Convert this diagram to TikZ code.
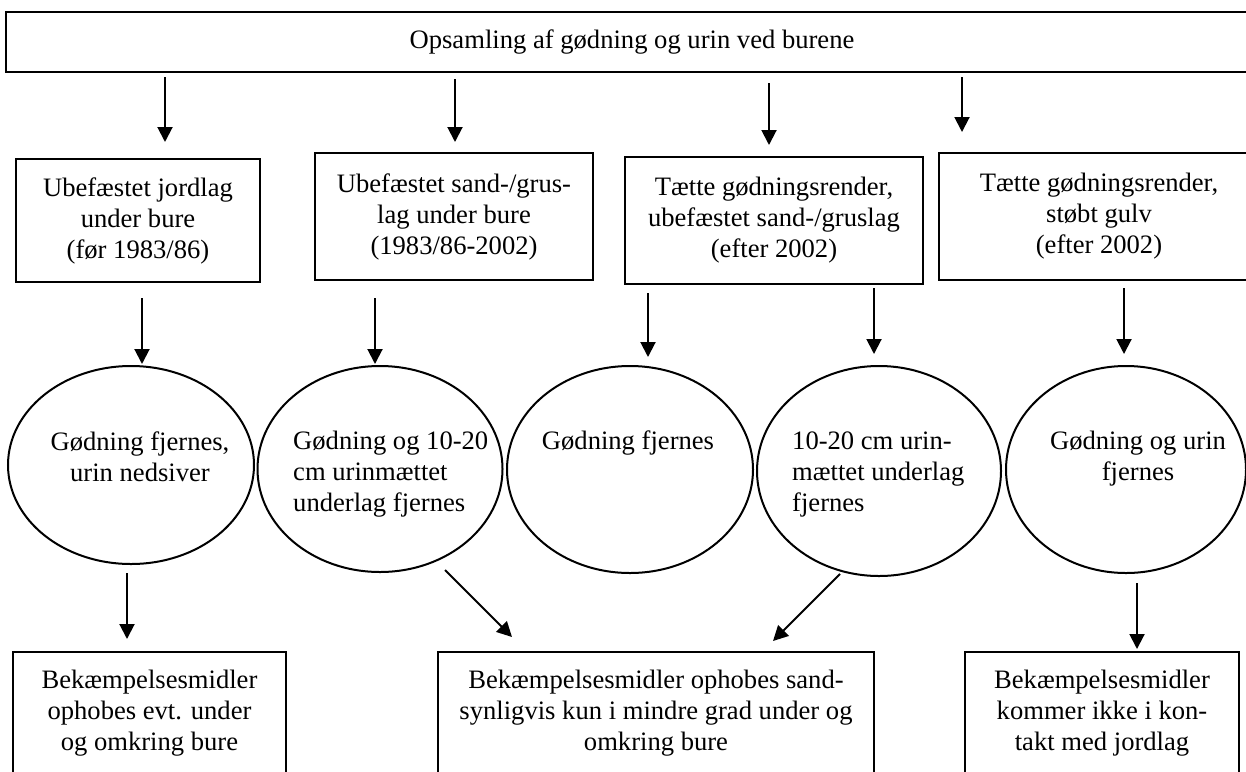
\documentclass[tikz,border=0pt]{standalone}
\usepackage{fontspec}
\setmainfont{Liberation Serif}
\usetikzlibrary{arrows.meta,shapes.geometric,calc}
\tikzset{bx/.style={draw,line width=2pt,align=center,inner sep=0pt,font=\fontsize{26.6}{31}\selectfont},
 el/.style={draw,ellipse,line width=2pt,inner sep=0pt},
 txt/.style={inner sep=0pt,font=\fontsize{26.6}{31}\selectfont},
 flow/.style={-{Triangle[length=15pt,width=15pt]},line width=2pt}}
\begin{document}
\begin{tikzpicture}[x=1pt,y=-1pt]
\useasboundingbox (0,0) rectangle (1246,771);
\clip (0,0) rectangle (1246,771);
\node[bx,minimum width=1252pt,minimum height=60pt] (top) at (632,42) {Opsamling af gødning og urin ved burene};
\node[bx,minimum width=244pt,minimum height=123pt] (A) at (138,220.5) {Ubefæstet jordlag\\under bure\\(før 1983/86)};
\node[bx,minimum width=278pt,minimum height=127pt] (B) at (454,216.5) {Ubefæstet sand-/grus-\\lag under bure\\(1983/86-2002)};
\node[bx,minimum width=298pt,minimum height=127pt] (C) at (774,220.5) {Tætte gødningsrender,\\ubefæstet sand-/gruslag\\(efter 2002)};
\node[bx,minimum width=320pt,minimum height=127pt] (D) at (1099,216.5) {Tætte gødningsrender,\\støbt gulv\\(efter 2002)};
% ellipses, text set on top of them
\node[el,minimum width=246pt,minimum height=198pt] (E1) at (131,465) {};
\node[el,minimum width=245pt,minimum height=206pt] (E2) at (380,469) {};
\node[el,minimum width=246pt,minimum height=207pt] (E3) at (630,469.5) {};
\node[el,minimum width=244pt,minimum height=210pt] (E4) at (879,471) {};
\node[el,minimum width=240pt,minimum height=207pt] (E5) at (1126,469.5) {};
\node[txt,align=center] (t1) at (140,457) {Gødning fjernes,\\urin nedsiver};
\node[txt,align=left,anchor=west] (t2) at (293,474) {Gødning og 10-20\\cm urinmættet\\underlag fjernes};
\node[txt] (t3) at (628,443) {Gødning fjernes};
\node[txt,align=left,anchor=west] (t4) at (792,474) {10-20 cm urin-\\mættet underlag\\fjernes};
\node[txt,align=center] (t5) at (1138,459) {Gødning og urin\\fjernes};
\node[bx,minimum width=273pt,minimum height=122pt] (L) at (149.5,713) {Bekæmpelsesmidler\\ophobes evt. under\\og omkring bure};
\node[bx,minimum width=436pt,minimum height=122pt] (M) at (656,713) {Bekæmpelsesmidler ophobes sand-\\synligvis kun i mindre grad under og\\omkring bure};
\node[bx,minimum width=274pt,minimum height=122pt] (R) at (1102,713) {Bekæmpelsesmidler\\kommer ikke i kon-\\takt med jordlag};
% arrows
\draw[flow,shorten <=4pt,shorten >=16pt] (top.south -| 165,0) -- (A.north -| 165,0);
\draw[flow,shorten <=6pt,shorten >=10pt] (top.south -| 455,0) -- (B.north -| 455,0);
\draw[flow,shorten <=10pt,shorten >=11pt] (top.south -| 769,0) -- (C.north -| 769,0);
\draw[flow,shorten <=4pt,shorten >=20pt] (top.south -| 962,0) -- (D.north -| 962,0);
\draw[flow,shorten <=15pt,shorten >=1pt] (A.south -| 142,0) -- (E1.north -| 142,0);
\draw[flow,shorten <=17pt,shorten >=1pt] (B.south -| 375,0) -- (E2.north -| 375,0);
\draw[flow,shorten <=8pt,shorten >=8pt] (C.south -| 648,0) -- (E3.north -| 648,0);
\draw[flow,shorten <=3pt,shorten >=11pt] (C.south -| 874,0) -- (E4.north -| 874,0);
\draw[flow,shorten <=7pt,shorten >=11pt] (D.south -| 1124,0) -- (E5.north -| 1124,0);
\draw[flow,shorten <=8pt,shorten >=12pt] (E1.south -| 127,0) -- (L.north -| 127,0);
\draw[flow] ($(E2.south)+(65,-3)$) -- ($(M.north west)+(75,-14)$);
\draw[flow] ($(E4.south)+(-39,-3)$) -- ($(M.north east)+(-102,-10)$);
\draw[flow,shorten <=9pt,shorten >=2pt] (E5.south -| 1137,0) -- (R.north -| 1137,0);
\end{tikzpicture}
\end{document}
